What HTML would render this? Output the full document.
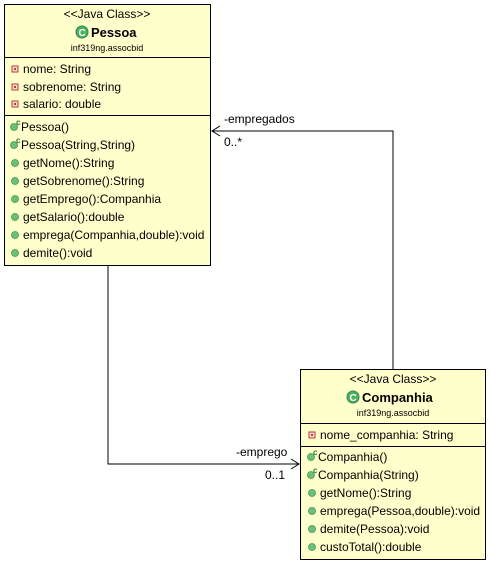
<!DOCTYPE html>
<html><head><meta charset="utf-8"><style>
html,body{margin:0;padding:0;background:#fff;}
svg{display:block;}
text{font-family:"Liberation Sans",Arial,sans-serif;font-size:12px;fill:#000;}
</style></head><body>
<svg width="490" height="563" viewBox="0 0 490 563" xmlns="http://www.w3.org/2000/svg">
<defs>
<g id="fld"><rect x="-3" y="-3" width="6" height="6" fill="#f4e0d8" stroke="#c0392b" stroke-width="1"/><rect x="-1" y="-1" width="2" height="2" fill="#c0392b"/></g>
<g id="mth"><circle r="3.5" fill="#6cbf7a" stroke="#3e9a50" stroke-width="0.8"/></g>
<g id="ctor"><circle r="3.5" fill="#6cbf7a" stroke="#3e9a50" stroke-width="0.8"/><text x="2" y="-2" style="font-size:8px;font-weight:bold;fill:#2e7d32">c</text></g>
<g id="cls"><circle r="6" fill="#4caf62" stroke="#2e8b45"/><text x="-3.5" y="4" style="font-size:10px;font-weight:bold;fill:#fff">C</text></g>
</defs>

<!-- connectors -->
<polyline points="108,266 108,464 299,464" fill="none" stroke="#000" stroke-width="1"/>
<polyline points="291,459 299,464 291,469" fill="none" stroke="#000" stroke-width="1"/>
<polyline points="393,369 393,131 212,131" fill="none" stroke="#000" stroke-width="1"/>
<polyline points="220,126 212,131 220,136" fill="none" stroke="#000" stroke-width="1"/>
<text x="224" y="123">-empregados</text>
<text x="224" y="146">0..*</text>
<text x="236" y="456">-emprego</text>
<text x="265" y="479">0..1</text>

<!-- Pessoa -->
<rect x="4.5" y="4.5" width="206" height="261" fill="#ffffcc" stroke="#000"/>
<line x1="4.5" y1="57.5" x2="210.5" y2="57.5" stroke="#000"/>
<line x1="4.5" y1="115.5" x2="210.5" y2="115.5" stroke="#000"/>
<text x="107" y="18" text-anchor="middle">&lt;&lt;Java Class&gt;&gt;</text>
<use href="#cls" x="82" y="32"/>
<text x="91" y="37" style="font-size:13px;font-weight:bold">Pessoa</text>
<text x="107" y="51" text-anchor="middle" style="font-size:9px">inf319ng.assocbid</text>
<use href="#fld" x="15" y="69"/><text x="23" y="73">nome: String</text>
<use href="#fld" x="15" y="87"/><text x="23" y="91">sobrenome: String</text>
<use href="#fld" x="15" y="104"/><text x="23" y="108">salario: double</text>
<use href="#ctor" x="14" y="127"/><text x="21" y="131">Pessoa()</text>
<use href="#ctor" x="14" y="145"/><text x="21" y="149">Pessoa(String,String)</text>
<use href="#mth" x="15" y="163"/><text x="23" y="167">getNome():String</text>
<use href="#mth" x="15" y="181"/><text x="23" y="185">getSobrenome():String</text>
<use href="#mth" x="15" y="199"/><text x="23" y="203">getEmprego():Companhia</text>
<use href="#mth" x="15" y="217"/><text x="23" y="221">getSalario():double</text>
<use href="#mth" x="15" y="235"/><text x="23" y="239">emprega(Companhia,double):void</text>
<use href="#mth" x="15" y="253"/><text x="23" y="257">demite():void</text>

<!-- Companhia -->
<rect x="300.5" y="369.5" width="185" height="190" fill="#ffffcc" stroke="#000"/>
<line x1="300.5" y1="423.5" x2="485.5" y2="423.5" stroke="#000"/>
<line x1="300.5" y1="446.5" x2="485.5" y2="446.5" stroke="#000"/>
<text x="393" y="383" text-anchor="middle">&lt;&lt;Java Class&gt;&gt;</text>
<use href="#cls" x="353" y="397"/>
<text x="362" y="402" style="font-size:13px;font-weight:bold">Companhia</text>
<text x="393" y="416" text-anchor="middle" style="font-size:9px">inf319ng.assocbid</text>
<use href="#fld" x="312" y="435"/><text x="320" y="439">nome_companhia: String</text>
<use href="#ctor" x="311" y="457"/><text x="318" y="461">Companhia()</text>
<use href="#ctor" x="311" y="475"/><text x="318" y="479">Companhia(String)</text>
<use href="#mth" x="312" y="493"/><text x="320" y="497">getNome():String</text>
<use href="#mth" x="312" y="511"/><text x="320" y="515">emprega(Pessoa,double):void</text>
<use href="#mth" x="312" y="529"/><text x="320" y="533">demite(Pessoa):void</text>
<use href="#mth" x="312" y="547"/><text x="320" y="551">custoTotal():double</text>
</svg>
</body></html>
